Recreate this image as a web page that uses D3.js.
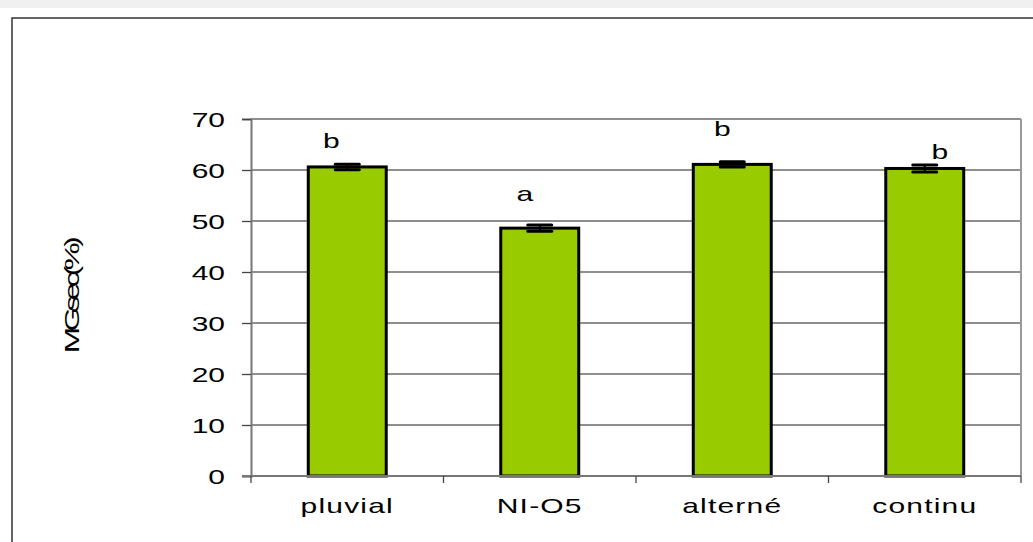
<!DOCTYPE html>
<html>
<head>
<meta charset="utf-8">
<script src="https://cdn.jsdelivr.net/npm/d3@7"></script>
<style>
  html, body { margin: 0; padding: 0; background: #fff; }
  svg { display: block; }
  text { font-family: "Liberation Sans", Arial, sans-serif; fill: #000; }
</style>
</head>
<body>
<svg id="chart" width="1033" height="542"></svg>
<script>
// Treatments and measured values
const categories = ["pluvial", "NI-O5", "alterné", "continu"];
const values = [60.6, 48.6, 61.1, 60.3];
const errors = [0.55, 0.6, 0.5, 0.7];
const groupLetters = ["b", "a", "b", "b"];
const yTicks = [0, 10, 20, 30, 40, 50, 60, 70];
const yLabel = "MGsec(%)";

// Letter placement tweaks (horizontal shift, gap above error bar)
const letterDx = [-16, -15, -10, 15];
const letterGap = [16, 24, 26, 6];

const W = 1033, H = 542;
const plot = { left: 251, top: 119, right: 1021, bottom: 476 };
const sx = 1.5; // horizontal stretch of the lettering

const svg = d3.select("#chart");

// page strip and outer frame
svg.append("rect").attr("x", 0).attr("y", 0).attr("width", W).attr("height", 8).attr("fill", "#f0f0f0");
svg.append("rect").attr("x", 12).attr("y", 18).attr("width", W + 20).attr("height", H + 20)
  .attr("fill", "none").attr("stroke", "#333").attr("stroke-width", 1.5);

const x = d3.scaleBand().domain(categories).range([plot.left, plot.right]).padding(0);
const y = d3.scaleLinear().domain([0, 70]).range([plot.bottom, plot.top]);
const barW = x.bandwidth() * 0.405;

// gridlines
svg.append("g").selectAll("line").data(yTicks.filter(d => d > 0)).join("line")
  .attr("x1", plot.left).attr("x2", plot.right)
  .attr("y1", d => y(d)).attr("y2", d => y(d))
  .attr("stroke", "#6a6a6a").attr("stroke-width", 1.3);

// right border of the plot area
svg.append("line").attr("x1", plot.right).attr("x2", plot.right)
  .attr("y1", plot.top).attr("y2", plot.bottom)
  .attr("stroke", "#999").attr("stroke-width", 2);

// bars
svg.append("g").selectAll("rect").data(categories).join("rect")
  .attr("x", (d) => x(d) + x.bandwidth() / 2 - barW / 2)
  .attr("width", barW)
  .attr("y", (d, i) => y(values[i]))
  .attr("height", (d, i) => y(0) - y(values[i]))
  .attr("fill", "#99cc00").attr("stroke", "#000").attr("stroke-width", 3);

// error bars
const eg = svg.append("g").attr("stroke", "#000");
categories.forEach((c, i) => {
  const cx = x(c) + x.bandwidth() / 2;
  const hi = y(values[i] + errors[i]), lo = y(values[i] - errors[i]);
  eg.append("line").attr("x1", cx).attr("x2", cx).attr("y1", hi).attr("y2", lo).attr("stroke-width", 2);
  [hi, lo].forEach(v => eg.append("line")
    .attr("x1", cx - 12).attr("x2", cx + 12).attr("y1", v).attr("y2", v)
    .attr("stroke-width", 3).attr("stroke-linecap", "round"));
});

// significance letters
svg.append("g").selectAll("text").data(groupLetters).join("text")
  .attr("transform", (d, i) => {
    const cx = x(categories[i]) + x.bandwidth() / 2 + letterDx[i];
    const by = y(values[i] + errors[i]) - letterGap[i];
    return `translate(${cx},${by}) scale(${sx},1)`;
  })
  .attr("text-anchor", "middle").attr("font-size", 20).text(d => d);

// y axis
const yAxis = svg.append("g").attr("transform", `translate(${plot.left},0)`)
  .call(d3.axisLeft(y).tickValues(yTicks).tickSize(9).tickPadding(0).tickFormat(d3.format("d")));
yAxis.select(".domain").attr("stroke", "#777").attr("stroke-width", 2);
yAxis.selectAll(".tick line").attr("stroke", "#444").attr("stroke-width", 1.3);
yAxis.selectAll(".tick text")
  .attr("x", null).attr("dy", null)
  .attr("font-size", 20).attr("fill", "#000").attr("text-anchor", "end")
  .attr("transform", `translate(-26,7) scale(${sx},1)`);

// x axis
const xAxis = svg.append("g").attr("transform", `translate(0,${plot.bottom})`);
xAxis.append("line").attr("x1", plot.left - 9).attr("x2", plot.right)
  .attr("stroke", "#777").attr("stroke-width", 2);
const bounds = categories.map(c => x(c)).concat([plot.right]);
xAxis.selectAll("line.tk").data(bounds).join("line").attr("class", "tk")
  .attr("x1", d => d).attr("x2", d => d).attr("y1", 0).attr("y2", 7)
  .attr("stroke", "#444").attr("stroke-width", 1.3);
xAxis.selectAll("text").data(categories).join("text")
  .attr("transform", d => `translate(${x(d) + x.bandwidth() / 2},37) scale(${sx},1)`)
  .attr("text-anchor", "middle").attr("font-size", 20).attr("letter-spacing", 0.8)
  .text(d => d);

// y axis title
svg.append("text")
  .attr("transform", `translate(79,297) rotate(-90) scale(${sx},1)`)
  .attr("text-anchor", "middle").attr("font-size", 21)
  .attr("letter-spacing", -3)
  .text(yLabel);
</script>
</body>
</html>
